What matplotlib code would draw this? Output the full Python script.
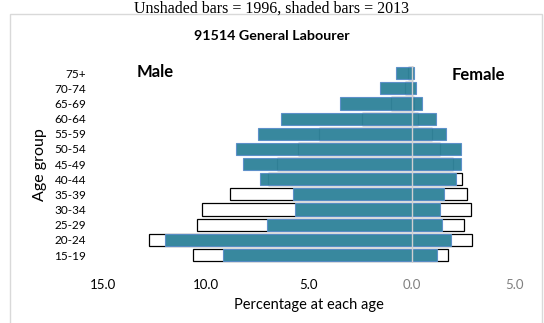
import matplotlib.pyplot as plt
from matplotlib.patches import Rectangle

# age groups, bottom to top
ages = ['15-19', '20-24', '25-29', '30-34', '35-39', '40-44', '45-49',
        '50-54', '55-59', '60-64', '65-69', '70-74', '75+']

# percentages (1996 = unshaded, 2013 = shaded)
male_1996 = [10.6, 12.75, 10.45, 10.2, 8.8, 7.0, 6.55, 5.5, 4.5, 2.4, 1.0, 0.3, 0.2]
female_1996 = [1.78, 2.91, 2.54, 2.88, 2.7, 2.43, 2.0, 1.36, 1.0, 0.3, 0.1, 0.05, 0.05]
male_2013 = [9.17, 12.0, 7.05, 5.68, 5.77, 7.37, 8.2, 8.54, 7.47, 6.36, 3.5, 1.55, 0.75]
female_2013 = [1.21, 1.89, 1.46, 1.38, 1.55, 2.17, 2.38, 2.38, 1.68, 1.17, 0.52, 0.2, 0.1]

xticks = [-15, -10, -5, 0, 5]
xticklabels = ['15.0', '10.0', '5.0', '0.0', '5.0']

teal = '#31849b'
edge = '#5b8fc9'

plt.rcParams['font.family'] = ['Lato', 'DejaVu Sans']

fig = plt.figure(figsize=(5.44, 3.23), dpi=100)

# chart frame
fig.patches.append(Rectangle((10 / 544, -0.05), 532 / 544, 1 - 14 / 323 + 0.05,
                             transform=fig.transFigure, fill=False,
                             edgecolor='#d9d9d9', linewidth=1))

ax = fig.add_axes([0.189, 0.187, 0.757, 0.61])
y = range(len(ages))

# 1996 unshaded
ax.barh(y, [-v for v in male_1996], height=0.8, color='white', edgecolor='black', linewidth=0.9, zorder=1)
ax.barh(y, female_1996, height=0.8, color='white', edgecolor='black', linewidth=0.9, zorder=1)
# 2013 shaded
ax.barh(y, [-v for v in male_2013], height=0.8, color=teal, edgecolor=edge, linewidth=0.8, alpha=0.97, zorder=2)
ax.barh(y, female_2013, height=0.8, color=teal, edgecolor=edge, linewidth=0.8, alpha=0.97, zorder=2)

ax.axvline(0, color='#d0d0d0', linewidth=1.0, zorder=3)

ax.set_xlim(-15, 5)
ax.set_ylim(-0.5, len(ages) - 0.5)
ax.set_yticks(list(y))
ax.set_yticklabels(ages, fontsize=8.5)
ax.set_xticks(xticks)
ax.set_xticklabels(xticklabels, fontsize=9.5)
for lab in ax.get_xticklabels()[3:]:
    lab.set_color('#808080')
ax.tick_params(axis='y', length=0, pad=12)
ax.tick_params(axis='x', length=0, pad=12)
for s in ax.spines.values():
    s.set_visible(False)

ax.set_xlabel('Percentage at each age', fontsize=10.5, labelpad=5)
fig.text(40 / 544, 1 - 165 / 323, 'Age group', rotation=90, fontsize=11.5,
         ha='center', va='center')

fig.text(0.5, 1 - 1 / 323, 'Unshaded bars = 1996, shaded bars = 2013',
         family='Liberation Serif', fontsize=11.5, ha='center', va='top')
fig.text(0.5, 1 - 36 / 323, '91514 General Labourer', fontsize=10.3,
         fontweight='bold', ha='center', va='center')
fig.text(155 / 544, 1 - 72 / 323, 'Male', fontsize=12, fontweight='bold',
         ha='center', va='center')
fig.text(478 / 544, 1 - 75 / 323, 'Female', fontsize=12, fontweight='bold',
         ha='center', va='center')

fig.savefig('out.png', dpi=100)
